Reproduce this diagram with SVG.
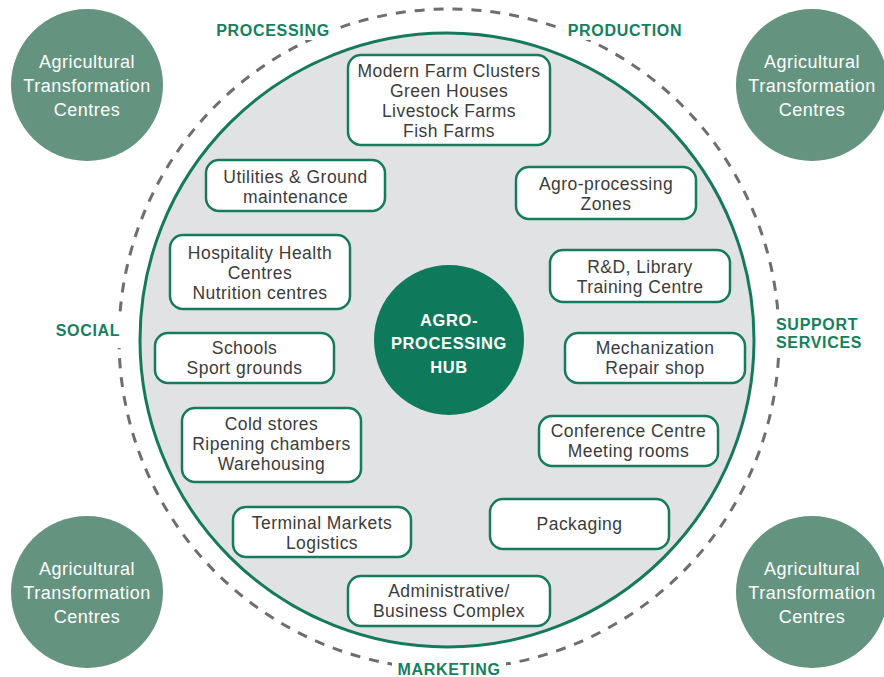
<svg xmlns="http://www.w3.org/2000/svg" width="884" height="677" viewBox="0 0 884 677">
<style>
.atc{fill:#64947f}
.atct{fill:#fff;font-family:"Liberation Sans",Arial,sans-serif;font-size:18px;letter-spacing:0.5px;text-anchor:middle}
.lbl{fill:#148060;font-family:"Liberation Sans",Arial,sans-serif;font-size:16px;font-weight:bold;letter-spacing:0.7px}
.hubt{fill:#fff;font-family:"Liberation Sans",Arial,sans-serif;font-size:16.5px;font-weight:bold;letter-spacing:0.6px;text-anchor:middle}
.box{fill:#fff;stroke:#167a5c;stroke-width:2.5}
.bt{fill:#3c3c3c;font-family:"Liberation Sans",Arial,sans-serif;font-size:17.5px;letter-spacing:0.45px;text-anchor:middle}
.mask{fill:#fff}
</style>
<rect width="884" height="677" fill="#fff"/>
<g id="connectors">
<circle cx="449" cy="339" r="330" fill="none" stroke="#6d6e71" stroke-width="3" stroke-dasharray="10 9"/>
</g>
<g id="ring-labels">
<rect class="mask" x="212" y="18" width="122" height="22"/>
<text class="lbl" x="273" y="36" text-anchor="middle">PROCESSING</text>
<rect class="mask" x="564" y="18" width="122" height="22"/>
<text class="lbl" x="625" y="36" text-anchor="middle">PRODUCTION</text>
<rect class="mask" x="54" y="312" width="72" height="36"/>
<text class="lbl" x="88" y="336" text-anchor="middle">SOCIAL</text>
<rect class="mask" x="770" y="310" width="94" height="44"/>
<text class="lbl" x="776" y="330">SUPPORT</text>
<text class="lbl" x="776" y="348">SERVICES</text>
<rect class="mask" x="392" y="657" width="114" height="20"/>
<text class="lbl" x="449" y="675" text-anchor="middle">MARKETING</text>
</g>
<g id="hub-area">
<circle cx="447" cy="340" r="307" fill="#e1e2e3" stroke="#157a5c" stroke-width="3"/>
</g>
<g id="atc-tl"><circle class="atc" cx="87" cy="85" r="76"/>
<text class="atct" x="87" y="68">Agricultural</text><text class="atct" x="87" y="92">Transformation</text><text class="atct" x="87" y="116">Centres</text></g>
<g id="atc-tr"><circle class="atc" cx="812" cy="85" r="76"/>
<text class="atct" x="812" y="68">Agricultural</text><text class="atct" x="812" y="92">Transformation</text><text class="atct" x="812" y="116">Centres</text></g>
<g id="atc-bl"><circle class="atc" cx="87" cy="592" r="76"/>
<text class="atct" x="87" y="575">Agricultural</text><text class="atct" x="87" y="599">Transformation</text><text class="atct" x="87" y="623">Centres</text></g>
<g id="atc-br"><circle class="atc" cx="812" cy="592" r="76"/>
<text class="atct" x="812" y="575">Agricultural</text><text class="atct" x="812" y="599">Transformation</text><text class="atct" x="812" y="623">Centres</text></g>
<g id="hub">
<circle cx="449" cy="340" r="75" fill="#0e795b"/>
<text class="hubt" x="449" y="326">AGRO-</text>
<text class="hubt" x="449" y="349">PROCESSING</text>
<text class="hubt" x="449" y="373">HUB</text>
</g>
<g id="production">
<rect class="box" x="348" y="55" width="202" height="90" rx="13"/>
<text class="bt" x="449" y="77">Modern Farm Clusters</text><text class="bt" x="449" y="97">Green Houses</text><text class="bt" x="449" y="117">Livestock Farms</text><text class="bt" x="449" y="137">Fish Farms</text>
</g>
<g id="utilities">
<rect class="box" x="206" y="160" width="179" height="51" rx="13"/>
<text class="bt" x="295.5" y="183">Utilities &amp; Ground</text><text class="bt" x="295.5" y="203">maintenance</text>
</g>
<g id="hospitality">
<rect class="box" x="170" y="235" width="180" height="74" rx="13"/>
<text class="bt" x="260" y="259">Hospitality Health</text><text class="bt" x="260" y="279">Centres</text><text class="bt" x="260" y="299">Nutrition centres</text>
</g>
<g id="schools">
<rect class="box" x="155" y="333" width="179" height="50" rx="13"/>
<text class="bt" x="244.5" y="354">Schools</text><text class="bt" x="244.5" y="374">Sport grounds</text>
</g>
<g id="cold-stores">
<rect class="box" x="182" y="408" width="179" height="74" rx="13"/>
<text class="bt" x="271.5" y="430">Cold stores</text><text class="bt" x="271.5" y="450">Ripening chambers</text><text class="bt" x="271.5" y="470">Warehousing</text>
</g>
<g id="terminal-markets">
<rect class="box" x="233" y="507" width="178" height="50" rx="13"/>
<text class="bt" x="322" y="529">Terminal Markets</text><text class="bt" x="322" y="549">Logistics</text>
</g>
<g id="administrative">
<rect class="box" x="348" y="576" width="202" height="50" rx="13"/>
<text class="bt" x="449" y="597">Administrative/</text><text class="bt" x="449" y="617">Business Complex</text>
</g>
<g id="agro-zones">
<rect class="box" x="516" y="167" width="180" height="52" rx="13"/>
<text class="bt" x="606" y="190">Agro-processing</text><text class="bt" x="606" y="210">Zones</text>
</g>
<g id="rnd">
<rect class="box" x="550" y="250" width="180" height="52" rx="13"/>
<text class="bt" x="640" y="273">R&amp;D, Library</text><text class="bt" x="640" y="293">Training Centre</text>
</g>
<g id="mechanization">
<rect class="box" x="565" y="333" width="180" height="50" rx="13"/>
<text class="bt" x="655" y="354">Mechanization</text><text class="bt" x="655" y="374">Repair shop</text>
</g>
<g id="conference">
<rect class="box" x="539" y="416" width="179" height="50" rx="13"/>
<text class="bt" x="628.5" y="437">Conference Centre</text><text class="bt" x="628.5" y="457">Meeting rooms</text>
</g>
<g id="packaging">
<rect class="box" x="490" y="499" width="179" height="50" rx="13"/>
<text class="bt" x="579.5" y="530">Packaging</text>
</g>
</svg>
